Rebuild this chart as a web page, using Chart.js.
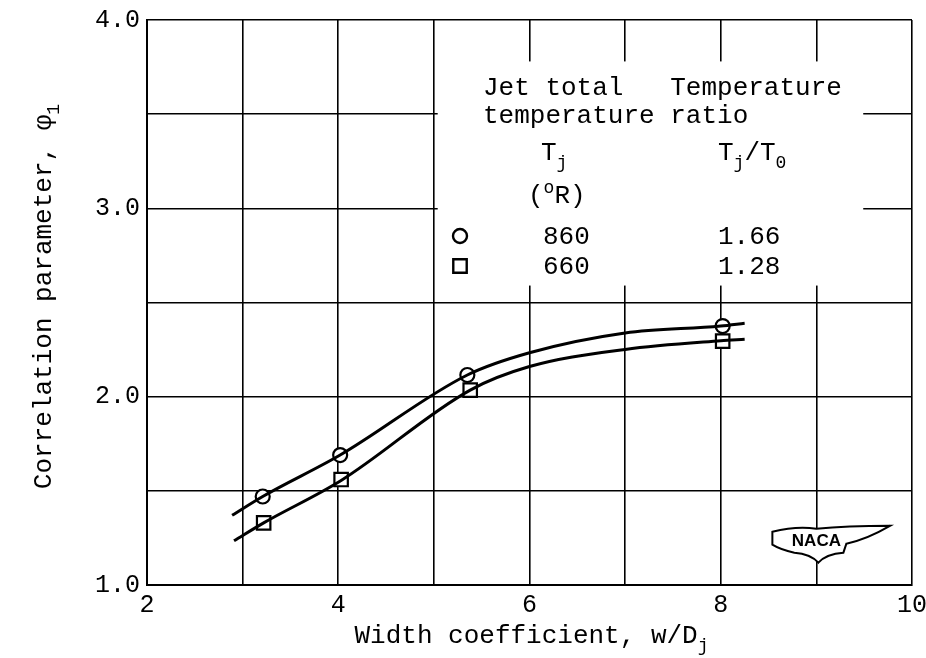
<!DOCTYPE html>
<html>
<head>
<meta charset="utf-8">
<script src="https://cdn.jsdelivr.net/npm/chart.js@4.4.1/dist/chart.umd.min.js"></script>
<style>
html,body{margin:0;padding:0;background:#fff;}
#wrap{width:926px;height:658px;}
</style>
</head>
<body>
<div id="wrap"><canvas id="chart" width="926" height="658"></canvas></div>
<script>
// tick labels
const xTickLabels = [2, 4, 6, 8, 10];
const yTickLabels = [1.0, 2.0, 3.0, 4.0];

// measured points, Tj = 860 (circles) and Tj = 660 (squares)
const hotX = [3.21, 4.02, 5.35, 8.02];
const hotY = [1.47, 1.69, 2.115, 2.375];
const coolX = [3.22, 4.03, 5.38, 8.02];
const coolY = [1.33, 1.56, 2.035, 2.295];

// faired curves
const hotCurveX = [2.89, 3.21, 4.02, 5.35, 6.0, 7.0, 8.0, 8.25];
const hotCurveY = [1.37, 1.47, 1.69, 2.115, 2.233, 2.338, 2.375, 2.39];
const coolCurveX = [2.91, 3.22, 4.03, 5.38, 6.0, 7.0, 8.0, 8.25];
const coolCurveY = [1.235, 1.33, 1.555, 2.035, 2.16, 2.251, 2.297, 2.305];

// legend table
const legendTemps = ["860", "660"];
const legendRatios = ["1.66", "1.28"];
const legendStyles = ["circle", "rect"];

const FONT = "'Liberation Mono', 'DejaVu Sans Mono', monospace";

const pts = (xs, ys) => xs.map((x, i) => ({x: x, y: ys[i]}));

// text with sub/superscript pieces
function richWidth(ctx, parts, size){
    let w = 0;
    parts.forEach(p => {
        ctx.font = (p.s ? Math.round(size*0.7) : size) + "px " + FONT;
        w += ctx.measureText(p.t).width;
    });
    return w;
}
function drawRich(ctx, parts, x, y, size){
    ctx.textAlign = "left";
    ctx.textBaseline = "alphabetic";
    parts.forEach(p => {
        const sz = p.s ? Math.round(size*0.7) : size;
        ctx.font = sz + "px " + FONT;
        let dy = 0;
        if(p.s === "sub") dy = size*0.3;
        if(p.s === "sup") dy = -size*0.38;
        ctx.fillText(p.t, x, y + dy);
        x += ctx.measureText(p.t).width;
    });
}

const paperPlugin = {
    id: "paper",
    beforeDatasetsDraw(chart){
        const ctx = chart.ctx;
        const xs = chart.scales.x, ys = chart.scales.y;
        ctx.save();
        // blank area behind the key
        const l = xs.getPixelForValue(5.04), r = xs.getPixelForValue(9.49);
        const t = ys.getPixelForValue(3.78), b = ys.getPixelForValue(2.59);
        ctx.fillStyle = "#fff";
        ctx.fillRect(l, t, r - l, b - t);

        // NACA wing badge
        const cx = xs.getPixelForValue(9), cy = ys.getPixelForValue(1.23);
        ctx.beginPath();
        ctx.moveTo(cx - 44, cy - 10);
        ctx.quadraticCurveTo(cx - 20, cy - 16, cx, cy - 13);
        ctx.quadraticCurveTo(cx + 30, cy - 16, cx + 74, cy - 16);
        ctx.quadraticCurveTo(cx + 50, cy - 2, cx + 30, cy + 2);
        ctx.lineTo(cx + 27, cy + 11);
        ctx.quadraticCurveTo(cx + 10, cy + 12, cx + 2, cy + 21);
        ctx.quadraticCurveTo(cx - 6, cy + 12, cx - 22, cy + 11);
        ctx.quadraticCurveTo(cx - 36, cy + 8, cx - 44, cy + 3);
        ctx.closePath();
        ctx.fillStyle = "#fff";
        ctx.fill();
        ctx.lineWidth = 2;
        ctx.strokeStyle = "#000";
        ctx.stroke();
        ctx.fillStyle = "#000";
        ctx.font = "bold 17px 'Liberation Sans', Arial, sans-serif";
        ctx.textAlign = "center";
        ctx.textBaseline = "middle";
        ctx.fillText("NACA", cx, cy);
        ctx.restore();
    },
    afterDraw(chart){
        const ctx = chart.ctx;
        const a = chart.chartArea;
        ctx.save();
        ctx.fillStyle = "#000";

        // axis titles
        const yt = [{t:"Correlation parameter, φ"}, {t:"1", s:"sub"}];
        ctx.save();
        ctx.translate(42, (a.top + a.bottom)/2 - 6);
        ctx.rotate(-Math.PI/2);
        drawRich(ctx, yt, -richWidth(ctx, yt, 26)/2, 9, 26);
        ctx.restore();
        const xt = [{t:"Width coefficient, w/D"}, {t:"j", s:"sub"}];
        drawRich(ctx, xt, (a.left + a.right)/2 - richWidth(ctx, xt, 26)/2 + 2, 643, 26);

        // key
        const kx = 483;
        drawRich(ctx, [{t:"Jet total   Temperature"}], kx, 95, 26);
        drawRich(ctx, [{t:"temperature ratio"}], kx, 123, 26);
        drawRich(ctx, [{t:"T"}, {t:"j", s:"sub"}], 541, 160, 26);
        drawRich(ctx, [{t:"T"}, {t:"j", s:"sub"}, {t:"/T"}, {t:"0", s:"sub"}], 718, 160, 26);
        drawRich(ctx, [{t:"("}, {t:"o", s:"sup"}, {t:"R)"}], 528, 203, 26);
        legendTemps.forEach((tv, i) => {
            const yb = 244 + i*30;
            ctx.fillStyle = "#fff";
            ctx.strokeStyle = "#000";
            ctx.lineWidth = 2.4;
            Chart.helpers.drawPoint(ctx, {pointStyle: legendStyles[i], radius: legendStyles[i] === "rect" ? 9.5 : 7, rotation: 0, borderWidth: 2.4}, 460, yb - 8);
            ctx.fillStyle = "#000";
            drawRich(ctx, [{t: tv}], 543, yb, 26);
            drawRich(ctx, [{t: legendRatios[i]}], 718, yb, 26);
        });
        ctx.restore();
    }
};

const curveStyle = {
    showLine: true,
    pointRadius: 0,
    borderColor: "#000",
    borderWidth: 3,
    cubicInterpolationMode: "monotone",
    fill: false
};
const markStyle = {
    showLine: false,
    borderColor: "#000",
    backgroundColor: "#fff",
    borderWidth: 2.2
};

new Chart(document.getElementById("chart"), {
    type: "scatter",
    data: {
        datasets: [
            Object.assign({label: "860 curve", data: pts(hotCurveX, hotCurveY)}, curveStyle),
            Object.assign({label: "660 curve", data: pts(coolCurveX, coolCurveY)}, curveStyle),
            Object.assign({label: "Tj 860 °R", data: pts(hotX, hotY), pointStyle: "circle", pointRadius: 7}, markStyle),
            Object.assign({label: "Tj 660 °R", data: pts(coolX, coolY), pointStyle: "rect", pointRadius: 9.5}, markStyle)
        ]
    },
    options: {
        responsive: false,
        animation: false,
        layout: {padding: {top: 20, right: 14, left: 0, bottom: 0}},
        plugins: {legend: {display: false}, tooltip: {enabled: false}},
        scales: {
            x: {
                type: "linear",
                min: 2, max: 10,
                afterFit(s){ s.height = 73; s.paddingLeft = 0; s.paddingRight = 0; },
                ticks: {
                    stepSize: 1,
                    autoSkip: false,
                    maxRotation: 0,
                    padding: 5,
                    color: "#000",
                    font: {family: FONT, size: 25},
                    callback: v => xTickLabels.includes(v) ? String(v) : ""
                },
                grid: {color: "#000", lineWidth: 1.6, drawTicks: false},
                border: {color: "#000", width: 2}
            },
            y: {
                type: "linear",
                min: 1, max: 4,
                afterFit(s){ s.width = 147; s.paddingTop = 0; s.paddingBottom = 0; },
                ticks: {
                    stepSize: 0.5,
                    autoSkip: false,
                    padding: 7,
                    color: "#000",
                    font: {family: FONT, size: 25},
                    callback: v => yTickLabels.includes(v) ? v.toFixed(1) : ""
                },
                grid: {color: "#000", lineWidth: 1.6, drawTicks: false},
                border: {color: "#000", width: 2}
            }
        }
    },
    plugins: [paperPlugin]
});
</script>
</body>
</html>
